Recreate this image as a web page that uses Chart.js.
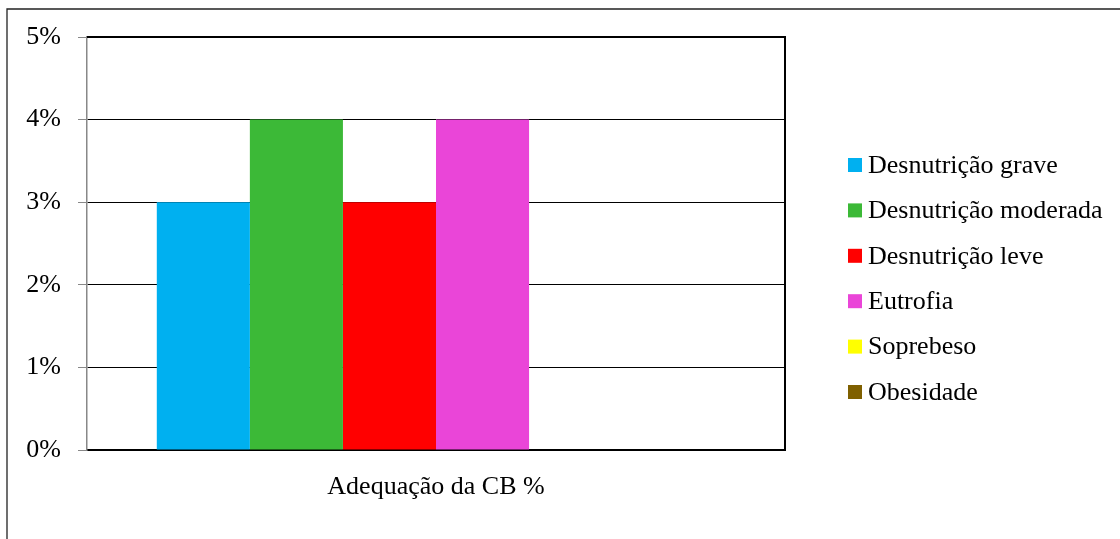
<!DOCTYPE html>
<html>
<head>
<meta charset="utf-8">
<title>Adequação da CB %</title>
<script src="https://cdn.jsdelivr.net/npm/chart.js@4.4.1/dist/chart.umd.min.js"></script>
<style>
  html, body { margin: 0; padding: 0; background: #fff; }
  #wrap { width: 1120px; height: 539px; position: relative; }
</style>
</head>
<body>
<div id="wrap"><canvas id="c" width="1120" height="539"></canvas></div>
<script>
// Categories, series and ticks
const categories = ['Adequação da CB %'];
const seriesNames = ['Desnutrição grave', 'Desnutrição moderada', 'Desnutrição leve', 'Eutrofia', 'Soprebeso', 'Obesidade'];
const seriesValues = [[3], [4], [3], [4], [0], [0]];
const seriesColors = ['#00B0F0', '#3CB937', '#FF0000', '#EA45D8', '#FFFF00', '#7F6000'];
const yTicks = [0, 1, 2, 3, 4, 5];

const FONT = 'Liberation Serif, "Times New Roman", serif';
const FONT_SIZE = 26;

// Outer frame, plot border and the side legend
const decorations = {
  id: 'decorations',
  afterDraw(chart) {
    const ctx = chart.ctx;
    const a = chart.chartArea;
    ctx.save();
    // outer frame (top and left edges)
    ctx.strokeStyle = '#222';
    ctx.lineWidth = 1.3;
    ctx.beginPath();
    ctx.moveTo(7, 539);
    ctx.lineTo(7, 9);
    ctx.lineTo(1120, 9);
    ctx.stroke();
    // plot border: top and right
    ctx.strokeStyle = '#000';
    ctx.lineWidth = 2;
    ctx.beginPath();
    ctx.moveTo(a.left, a.top);
    ctx.lineTo(a.right, a.top);
    ctx.lineTo(a.right, a.bottom);
    ctx.stroke();
    // legend
    const lx = a.right + 63;
    let ly = 165;
    const step = 45.4;
    ctx.font = FONT_SIZE + 'px ' + FONT;
    ctx.textBaseline = 'middle';
    ctx.textAlign = 'left';
    chart.data.datasets.forEach((ds) => {
      ctx.fillStyle = ds.backgroundColor;
      ctx.fillRect(lx, ly - 7, 14, 14);
      ctx.fillStyle = '#000';
      ctx.fillText(ds.label, lx + 20, ly + 1);
      ly += step;
    });
    ctx.restore();
  }
};

new Chart(document.getElementById('c'), {
  type: 'bar',
  data: {
    labels: categories,
    datasets: seriesNames.map((name, i) => ({
      label: name,
      data: seriesValues[i],
      backgroundColor: seriesColors[i],
      borderWidth: 0,
      categoryPercentage: 0.8,
      barPercentage: 1.0
    }))
  },
  options: {
    responsive: false,
    animation: false,
    devicePixelRatio: 1,
    layout: { padding: { left: 0, top: 37, right: 335, bottom: 0 } },
    plugins: {
      legend: { display: false },
      tooltip: { enabled: false }
    },
    scales: {
      x: {
        grid: { display: false, drawTicks: false },
        border: { display: true, color: '#000', width: 2 },
        ticks: {
          color: '#000',
          font: { family: FONT, size: FONT_SIZE },
          padding: 22
        },
        afterFit(scale) { scale.height = 89; }
      },
      y: {
        min: 0,
        max: 5,
        afterBuildTicks(scale) { scale.ticks = yTicks.map(v => ({ value: v })); },
        grid: {
          color: '#000',
          lineWidth: 1,
          tickColor: '#888',
          tickLength: 9,
          drawTicks: true
        },
        border: { display: true, color: '#888', width: 1.5 },
        ticks: {
          color: '#000',
          font: { family: FONT, size: FONT_SIZE },
          padding: 17,
          callback: (v) => v + '%'
        },
        afterFit(scale) { scale.width = 87; }
      }
    }
  },
  plugins: [decorations]
});
</script>
</body>
</html>
